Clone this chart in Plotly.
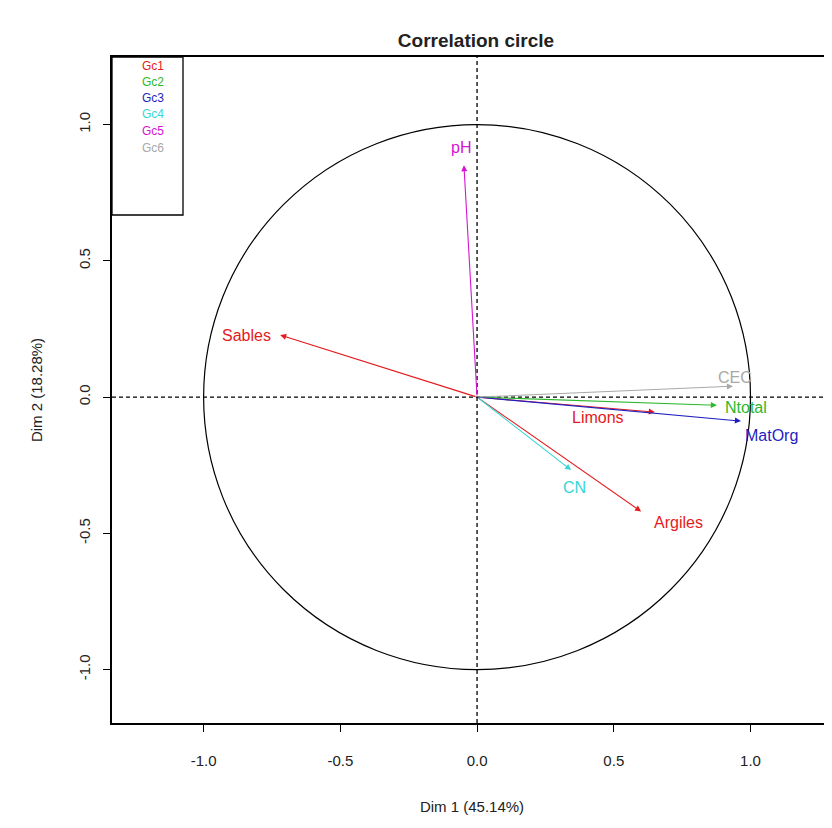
import plotly.graph_objects as go

# ---- data ----
variables = ["Sables", "Limons", "Argiles", "Ntotal", "MatOrg", "CN", "pH", "CEC"]
dim1 = [-0.72, 0.65, 0.60, 0.877, 0.965, 0.344, -0.048, 0.936]
dim2 = [0.228, -0.055, -0.42, -0.030, -0.088, -0.268, 0.851, 0.040]
groups = ["Gc1", "Gc1", "Gc1", "Gc2", "Gc3", "Gc4", "Gc5", "Gc6"]

legend_groups = ["Gc1", "Gc2", "Gc3", "Gc4", "Gc5", "Gc6"]
group_colors = ["#E41A1C", "#2DB82D", "#1F1FC0", "#36D6D6", "#D414D4", "#A8A8A8"]

x_ticks = [-1.0, -0.5, 0.0, 0.5, 1.0]
x_tick_labels = ["-1.0", "-0.5", "0.0", "0.5", "1.0"]
y_ticks = [-1.0, -0.5, 0.0, 0.5, 1.0]
y_tick_labels = ["-1.0", "-0.5", "0.0", "0.5", "1.0"]

# ---- styling: label offsets (pixels) ----
label_style = {
    "Sables": dict(xanchor="right", yanchor="middle", xshift=-7, yshift=-1),
    "Limons": dict(xanchor="center", yanchor="middle", xshift=-57, yshift=-5),
    "Argiles": dict(xanchor="center", yanchor="middle", xshift=37, yshift=-11),
    "Ntotal": dict(xanchor="left", yanchor="middle", xshift=6, yshift=-2),
    "MatOrg": dict(xanchor="left", yanchor="middle", xshift=2, yshift=-14),
    "CN": dict(xanchor="center", yanchor="middle", xshift=3, yshift=-17),
    "pH": dict(xanchor="center", yanchor="middle", xshift=-3, yshift=18),
    "CEC": dict(xanchor="center", yanchor="middle", xshift=2, yshift=9),
}

color_of = dict(zip(legend_groups, group_colors))
FONT = "Liberation Sans, Arial, sans-serif"

PW, PH = 720, 666  # plot area size in px

fig = go.Figure()
# invisible trace to set up axes
fig.add_trace(go.Scatter(x=dim1, y=dim2, mode="markers",
                         marker=dict(size=1, opacity=0), hoverinfo="skip",
                         showlegend=False))

annotations = []
for name, x, y, g in zip(variables, dim1, dim2, groups):
    c = color_of[g]
    annotations.append(dict(x=x, y=y, ax=0, ay=0, xref="x", yref="y",
                            axref="x", ayref="y", text="", showarrow=True,
                            arrowhead=2, arrowsize=1.1, arrowwidth=1.1,
                            arrowcolor=c))
    annotations.append(dict(x=x, y=y, xref="x", yref="y", text=name,
                            showarrow=False,
                            font=dict(family=FONT, size=16, color=c),
                            **label_style[name]))

# legend texts (paper coords, offsets measured from plot top-left)
leg_y_px = [9, 25, 41, 57, 74, 91]
for g, c, py in zip(legend_groups, group_colors, leg_y_px):
    annotations.append(dict(x=54 / PW, y=1 - py / PH,
                            xref="paper", yref="paper", text=g,
                            showarrow=False, xanchor="right", yanchor="middle",
                            font=dict(family=FONT, size=12, color=c)))

shapes = [
    dict(type="circle", xref="x", yref="y", x0=-1, y0=-1, x1=1, y1=1,
         line=dict(color="black", width=1.2)),
    dict(type="line", xref="x", yref="paper", x0=0, x1=0, y0=0, y1=1,
         line=dict(color="black", width=1.3, dash="4px,3px")),
    dict(type="line", xref="paper", yref="y", x0=0, x1=1, y0=0, y1=0,
         line=dict(color="black", width=1.3, dash="4px,3px")),
    dict(type="rect", xref="paper", yref="paper", x0=0, x1=71 / PW,
         y0=1 - 158 / PH, y1=1, line=dict(color="black", width=1.3),
         fillcolor="rgba(0,0,0,0)"),
]

fig.update_layout(
    width=824, height=820,
    margin=dict(l=104, r=0, t=49, b=105),
    paper_bgcolor="white", plot_bgcolor="white",
    font=dict(family=FONT, size=15, color="#222"),
    title=dict(text="<b>Correlation circle</b>", x=468 / 824, xanchor="center",
               y=1 - 32 / 820, yanchor="middle",
               font=dict(family=FONT, size=19, color="#222")),
    annotations=annotations,
    shapes=shapes,
    showlegend=False,
)
fig.update_xaxes(range=[-1.335, 1.298], tickvals=x_ticks, ticktext=x_tick_labels,
                 showgrid=False, zeroline=False, showline=True, mirror=True,
                 linecolor="black", linewidth=1.5, ticks="outside", ticklen=7,
                 tickcolor="black", ticklabelstandoff=16,
                 tickfont=dict(size=15, color="#222"),
                 title=dict(text="Dim 1 (45.14%)", standoff=34,
                            font=dict(size=15, color="#222")))
fig.update_yaxes(range=[-1.196, 1.248], tickvals=y_ticks, ticktext=y_tick_labels,
                 showgrid=False, zeroline=False, showline=True, mirror=False,
                 linecolor="black", linewidth=1.5, ticks="outside", ticklen=7,
                 tickcolor="black", tickangle=-90, ticklabelstandoff=7,
                 tickfont=dict(size=15, color="#222"),
                 title=dict(text="Dim 2 (18.28%)", standoff=30,
                            font=dict(size=15, color="#222")))

fig.write_html("out.html")
